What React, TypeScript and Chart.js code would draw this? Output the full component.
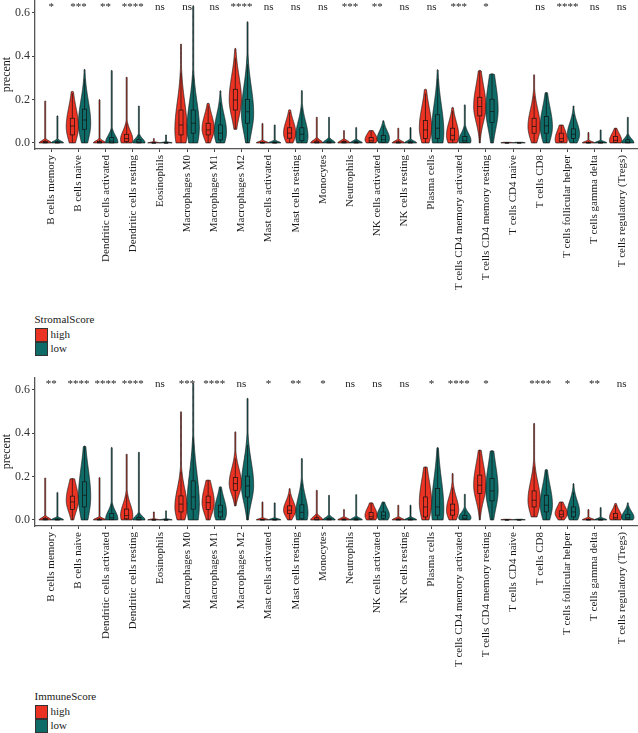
import React, { useEffect, useRef } from 'react';
import { Chart, registerables } from 'chart.js';

Chart.register(...registerables);

const categories = [
  'B cells memory', 'B cells naive', 'Dendritic cells activated', 'Dendritic cells resting',
  'Eosinophils', 'Macrophages M0', 'Macrophages M1', 'Macrophages M2', 'Mast cells activated',
  'Mast cells resting', 'Monocytes', 'Neutrophils', 'NK cells activated', 'NK cells resting',
  'Plasma cells', 'T cells CD4 memory activated', 'T cells CD4 memory resting', 'T cells CD4 naive',
  'T cells CD8', 'T cells follicular helper', 'T cells gamma delta', 'T cells regulatory (Tregs)',
];

const stromalSig = ['*', '***', '**', '****', 'ns', 'ns', 'ns', '****', 'ns', 'ns', 'ns', '***', '**', 'ns', 'ns', '***', '*', '', 'ns', '****', 'ns', 'ns'];
const immuneSig = ['**', '****', '****', '****', 'ns', '***', '****', 'ns', '*', '**', '*', 'ns', 'ns', 'ns', '*', '****', '*', '', '****', '*', '**', 'ns'];

// each violin: [min, q1, median, q3, max, mode]
const stromalHigh = [
  [0, 0, 0.002, 0.006, 0.194, 0],
  [0, 0.037, 0.078, 0.114, 0.238, 0.075],
  [0, 0, 0.002, 0.006, 0.2, 0],
  [0, 0.006, 0.02, 0.04, 0.304, 0.015],
  [0, 0, 0, 0, 0.02, 0],
  [0, 0.037, 0.083, 0.152, 0.457, 0.06],
  [0, 0.037, 0.06, 0.091, 0.183, 0.065],
  [0.063, 0.152, 0.198, 0.248, 0.437, 0.2],
  [0, 0, 0, 0.003, 0.09, 0],
  [0, 0.022, 0.045, 0.07, 0.153, 0.045],
  [0, 0, 0.002, 0.008, 0.119, 0],
  [0, 0, 0.002, 0.006, 0.057, 0],
  [0, 0.002, 0.01, 0.025, 0.057, 0.015],
  [0, 0, 0.001, 0.005, 0.068, 0],
  [0, 0.02, 0.06, 0.103, 0.248, 0.07],
  [0, 0.014, 0.035, 0.068, 0.164, 0.035],
  [0, 0.125, 0.168, 0.211, 0.335, 0.168],
  [0, 0, 0, 0, 0.003, 0],
  [0, 0.045, 0.076, 0.114, 0.315, 0.075],
  [0, 0.007, 0.02, 0.045, 0.083, 0.015],
  [0, 0, 0, 0.003, 0.048, 0],
  [0, 0.003, 0.012, 0.03, 0.068, 0.01],
];

const stromalLow = [
  [0, 0, 0.001, 0.005, 0.125, 0],
  [0, 0.063, 0.106, 0.156, 0.34, 0.09],
  [0, 0, 0.008, 0.025, 0.335, 0.003],
  [0, 0, 0.004, 0.015, 0.171, 0],
  [0, 0, 0, 0, 0.037, 0],
  [0, 0.045, 0.091, 0.152, 0.634, 0.07],
  [0, 0.014, 0.045, 0.083, 0.241, 0.05],
  [0, 0.091, 0.144, 0.2, 0.56, 0.137],
  [0, 0, 0, 0.003, 0.083, 0],
  [0, 0.01, 0.04, 0.07, 0.242, 0.03],
  [0, 0, 0.002, 0.008, 0.119, 0],
  [0, 0, 0.001, 0.005, 0.071, 0],
  [0, 0.003, 0.015, 0.034, 0.103, 0.02],
  [0, 0, 0.001, 0.005, 0.071, 0],
  [0, 0.02, 0.068, 0.13, 0.338, 0.05],
  [0, 0.002, 0.01, 0.03, 0.176, 0.01],
  [0, 0.094, 0.145, 0.202, 0.319, 0.153],
  [0, 0, 0, 0, 0.003, 0],
  [0, 0.045, 0.079, 0.122, 0.233, 0.075],
  [0, 0.02, 0.04, 0.065, 0.171, 0.04],
  [0, 0, 0, 0.003, 0.06, 0],
  [0, 0, 0.004, 0.015, 0.119, 0],
];

const immuneHigh = [
  [0, 0, 0.002, 0.006, 0.194, 0],
  [0, 0.048, 0.083, 0.11, 0.191, 0.09],
  [0, 0, 0.001, 0.004, 0.196, 0],
  [0, 0.005, 0.02, 0.05, 0.304, 0.02],
  [0, 0, 0, 0, 0.037, 0],
  [0, 0.037, 0.073, 0.111, 0.5, 0.06],
  [0, 0.048, 0.08, 0.11, 0.184, 0.08],
  [0.065, 0.137, 0.168, 0.196, 0.407, 0.168],
  [0, 0, 0, 0.002, 0.083, 0],
  [0, 0.03, 0.045, 0.065, 0.145, 0.045],
  [0, 0, 0.003, 0.01, 0.137, 0],
  [0, 0, 0.001, 0.004, 0.048, 0],
  [0, 0.005, 0.015, 0.035, 0.079, 0.02],
  [0, 0, 0.001, 0.004, 0.068, 0],
  [0, 0.014, 0.06, 0.106, 0.245, 0.08],
  [0, 0.022, 0.045, 0.073, 0.215, 0.045],
  [0, 0.122, 0.16, 0.207, 0.323, 0.16],
  [0, 0, 0, 0, 0.003, 0],
  [0.014, 0.06, 0.091, 0.134, 0.446, 0.09],
  [0, 0.014, 0.026, 0.042, 0.083, 0.03],
  [0, 0, 0, 0.003, 0.048, 0],
  [0, 0.004, 0.012, 0.03, 0.076, 0.012],
];

const immuneLow = [
  [0, 0, 0.001, 0.004, 0.127, 0],
  [0, 0.06, 0.114, 0.176, 0.341, 0.106],
  [0, 0.001, 0.01, 0.03, 0.335, 0.005],
  [0, 0, 0.003, 0.012, 0.313, 0],
  [0, 0, 0, 0, 0.042, 0],
  [0, 0.05, 0.106, 0.18, 0.631, 0.07],
  [0, 0.014, 0.037, 0.068, 0.153, 0.035],
  [0, 0.106, 0.157, 0.202, 0.562, 0.16],
  [0, 0, 0, 0.002, 0.079, 0],
  [0, 0.005, 0.035, 0.07, 0.284, 0.03],
  [0, 0, 0.002, 0.007, 0.114, 0],
  [0, 0, 0.001, 0.005, 0.117, 0],
  [0, 0.008, 0.02, 0.037, 0.083, 0.02],
  [0, 0, 0.001, 0.004, 0.068, 0],
  [0, 0.022, 0.06, 0.145, 0.335, 0.05],
  [0, 0.002, 0.008, 0.02, 0.119, 0.01],
  [0, 0.088, 0.134, 0.191, 0.32, 0.137],
  [0, 0, 0, 0, 0.003, 0],
  [0, 0.037, 0.068, 0.114, 0.233, 0.07],
  [0, 0.014, 0.037, 0.06, 0.168, 0.035],
  [0, 0, 0, 0.003, 0.057, 0],
  [0, 0.003, 0.01, 0.025, 0.079, 0.012],
];

const yTicks = [0, 0.2, 0.4, 0.6];
const groupLabels = ['high', 'low'];

const RED = '#EA3323';
const TEAL = '#0E6B67';
const FONT = '"Liberation Serif", "Times New Roman", serif';
const CANVAS_H = 310;
const PLOT_BOTTOM = 149;

function makePlugin(high: number[][], low: number[][], sig: string[]) {
  return {
    id: 'violins',
    afterDatasetsDraw(chart: any) {
      const xs = chart.scales.x;
      const ys = chart.scales.y;
      const ctx = chart.ctx;
      const unit = xs.getPixelForValue(1) - xs.getPixelForValue(0);
      const hw = 0.225 * unit;
      const bw = 0.075 * unit;
      ctx.save();
      [high, low].forEach((data, gi) => {
        const off = gi === 0 ? -0.225 : 0.225;
        const color = gi === 0 ? RED : TEAL;
        data.forEach((st, i) => {
          const [lo, q1, med, q3, hi, peak] = st;
          const cx = xs.getPixelForValue(i + off);
          const iqr = q3 - q1;
          const sdU = iqr * 1.1 + 0.003;
          const sdL = iqr * 0.8 + 0.003;
          const N = 120;
          const pts: [number, number][] = [];
          for (let k = 0; k <= N; k++) {
            const v = lo + ((hi - lo) * k) / N;
            const sd = v < peak ? sdL : sdU;
            let w = Math.exp(-0.5 * ((v - peak) / sd) ** 2) * hw;
            if (w < 0.5) w = 0.5;
            if (k === N) w = 0.2;
            pts.push([ys.getPixelForValue(v), w]);
          }
          ctx.beginPath();
          pts.forEach(([py, w], k) => {
            if (k === 0) ctx.moveTo(cx - w, py);
            else ctx.lineTo(cx - w, py);
          });
          for (let k = N; k >= 0; k--) ctx.lineTo(cx + pts[k][1], pts[k][0]);
          ctx.closePath();
          ctx.fillStyle = color;
          ctx.fill();
          ctx.strokeStyle = '#151515';
          ctx.lineWidth = 0.7;
          ctx.stroke();

          // inner boxplot
          const wTop = Math.min(hi, q3 + 1.5 * iqr);
          const wBot = Math.max(lo, q1 - 1.5 * iqr);
          ctx.strokeStyle = '#111';
          ctx.lineWidth = 0.7;
          ctx.beginPath();
          ctx.moveTo(cx, ys.getPixelForValue(q3));
          ctx.lineTo(cx, ys.getPixelForValue(wTop));
          ctx.moveTo(cx, ys.getPixelForValue(q1));
          ctx.lineTo(cx, ys.getPixelForValue(wBot));
          ctx.stroke();
          const yq3 = ys.getPixelForValue(q3);
          const yq1 = ys.getPixelForValue(q1);
          ctx.strokeRect(cx - bw, yq3, 2 * bw, yq1 - yq3);
          ctx.beginPath();
          ctx.moveTo(cx - bw, ys.getPixelForValue(med));
          ctx.lineTo(cx + bw, ys.getPixelForValue(med));
          ctx.stroke();
        });
      });
      ctx.fillStyle = '#222';
      ctx.font = `11px ${FONT}`;
      ctx.textAlign = 'center';
      ctx.textBaseline = 'alphabetic';
      sig.forEach((s, i) => {
        if (s) ctx.fillText(s, xs.getPixelForValue(i), ys.getPixelForValue(0.613));
      });
      ctx.restore();
    },
  };
}

function ViolinPanel({ high, low, sig, top }: { high: number[][]; low: number[][]; sig: string[]; top: number }) {
  const ref = useRef<HTMLCanvasElement | null>(null);
  useEffect(() => {
    if (!ref.current) return;
    const chart = new Chart(ref.current, {
      type: 'scatter',
      data: {
        datasets: [high, low].map((d, gi) => ({
          label: groupLabels[gi],
          data: d.map((s, i) => ({ x: i + (gi === 0 ? -0.225 : 0.225), y: s[2] })),
          pointRadius: 0,
          backgroundColor: gi === 0 ? RED : TEAL,
        })),
      },
      options: {
        responsive: false,
        animation: false,
        layout: { padding: 0 },
        plugins: { legend: { display: false }, tooltip: { enabled: false } },
        scales: {
          x: {
            type: 'linear',
            min: -0.6,
            max: 21.6,
            afterBuildTicks: (s: any) => {
              s.ticks = categories.map((_, i) => ({ value: i }));
            },
            afterFit: (s: any) => {
              s.height = CANVAS_H - PLOT_BOTTOM;
              s.paddingLeft = 0;
              s.paddingRight = 0;
            },
            ticks: {
              autoSkip: false,
              maxRotation: 90,
              minRotation: 90,
              padding: 3,
              color: '#1a1a1a',
              font: { family: FONT, size: 11 },
              callback: (v: any) => categories[v as number],
            },
            grid: { drawOnChartArea: false, drawTicks: true, tickLength: 3, color: '#444' },
            border: { display: true, color: '#555', width: 1.3 },
          },
          y: {
            min: -0.028,
            max: 0.66,
            afterBuildTicks: (s: any) => {
              s.ticks = yTicks.map((v) => ({ value: v }));
            },
            afterFit: (s: any) => {
              s.width = 35;
              s.paddingTop = 0;
              s.paddingBottom = 0;
            },
            ticks: {
              padding: 2,
              color: '#333',
              font: { family: FONT, size: 12 },
              callback: (v: any) => Number(v).toFixed(1),
            },
            grid: { drawOnChartArea: false, drawTicks: true, tickLength: 3, color: '#444' },
            border: { display: true, color: '#555', width: 1.3 },
            title: { display: true, text: 'precent', color: '#1a1a1a', font: { family: FONT, size: 12 }, padding: 0 },
          },
        },
      },
      plugins: [makePlugin(high, low, sig)],
    } as any);
    return () => chart.destroy();
  }, []);
  return (
    <canvas
      ref={ref}
      width={638}
      height={CANVAS_H}
      style={{ position: 'absolute', left: 0, top, width: 638, height: CANVAS_H }}
    />
  );
}

function Legend({ title, top }: { title: string; top: number }) {
  const txt: React.CSSProperties = {
    position: 'absolute',
    fontFamily: FONT,
    fontSize: 11,
    lineHeight: '11px',
    color: '#1a1a1a',
    whiteSpace: 'nowrap',
  };
  const key: React.CSSProperties = {
    position: 'absolute',
    left: 34.5,
    width: 13.5,
    height: 14,
    boxSizing: 'border-box',
    border: '1px solid #333',
  };
  return (
    <>
      <div style={{ ...txt, left: 34.5, top: top - 9 }}>{title}</div>
      <div style={{ ...key, top: top + 5, background: RED }} />
      <div style={{ ...key, top: top + 19, background: TEAL }} />
      <div style={{ ...txt, left: 50.5, top: top + 6 }}>{groupLabels[0]}</div>
      <div style={{ ...txt, left: 50.5, top: top + 20 }}>{groupLabels[1]}</div>
    </>
  );
}

export default function App() {
  return (
    <div style={{ position: 'absolute', left: 0, top: 0, width: 638, height: 733, background: '#fff', overflow: 'hidden' }}>
      <ViolinPanel high={stromalHigh} low={stromalLow} sig={stromalSig} top={0} />
      <Legend title="StromalScore" top={323} />
      <ViolinPanel high={immuneHigh} low={immuneLow} sig={immuneSig} top={377} />
      <Legend title="ImmuneScore" top={700} />
    </div>
  );
}
